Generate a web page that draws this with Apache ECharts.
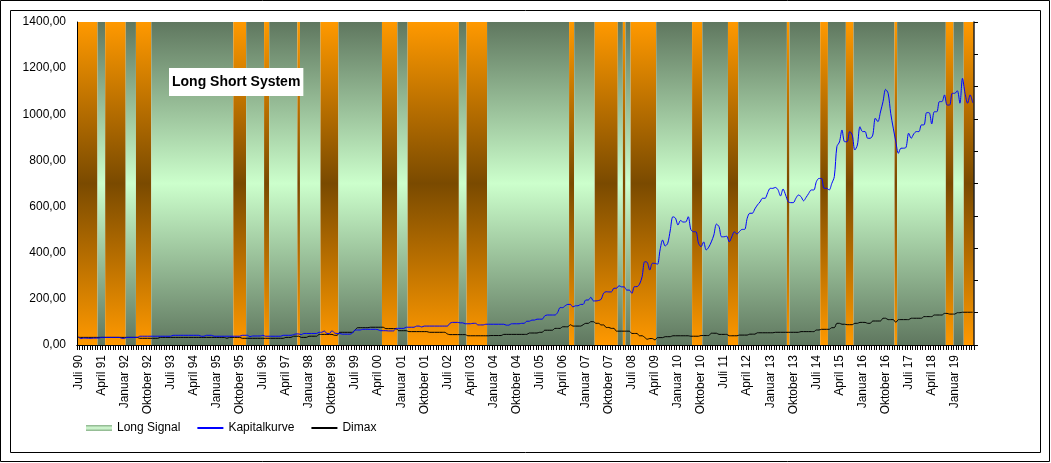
<!DOCTYPE html>
<html>
<head>
<meta charset="utf-8">
<script src="https://cdn.jsdelivr.net/npm/echarts@6/dist/echarts.min.js"></script>
<style>
html,body{margin:0;padding:0;background:#fff;}
#chart{width:1051px;height:463px;}
</style>
</head>
<body>
<div id="chart"></div>
<script>
// ---- data ----
const monthNames = ['Januar','Februar','März','April','Mai','Juni','Juli','August','September','Oktober','November','Dezember'];
const startYear = 1990;
const startMonth = 6; // Juli
const yTicks = [0, 200, 400, 600, 800, 1000, 1200, 1400];

// 1 = Long Signal (green), 0 = no long signal (orange), monthly from Juli 90
const longSignal = [
  0,0,0,0,0,0,0,0,1,1,
  1,0,0,0,0,0,0,0,0,1,
  1,1,1,0,0,0,0,0,0,1,
  1,1,1,1,1,1,1,1,1,1,
  1,1,1,1,1,1,1,1,1,1,
  1,1,1,1,1,1,1,1,1,1,
  1,0,0,0,0,0,1,1,1,1,
  1,1,1,0,0,1,1,1,1,1,
  1,1,1,1,1,1,0,1,1,1,
  1,1,1,1,1,0,0,0,0,0,
  0,0,1,1,1,1,1,1,1,1,
  1,1,1,1,1,1,1,1,1,0,
  0,0,0,0,0,1,1,1,1,0,
  0,0,0,0,0,0,0,0,0,0,
  0,0,0,0,0,0,0,0,0,1,
  1,1,0,0,0,0,0,0,0,0,
  1,1,1,1,1,1,1,1,1,1,
  1,1,1,1,1,1,1,1,1,1,
  1,1,1,1,1,1,1,1,1,1,
  1,1,0,0,1,1,1,1,1,1,
  1,1,0,0,0,0,0,0,0,0,
  0,1,1,0,1,1,0,0,0,0,
  0,0,0,0,0,0,1,1,1,1,
  1,1,1,1,1,1,1,1,1,1,
  0,0,0,0,1,1,1,1,1,1,
  1,1,1,1,0,0,0,0,1,1,
  1,1,1,1,1,1,1,1,1,1,
  1,1,1,1,1,1,1,0,1,1,
  1,1,1,1,1,1,1,1,1,1,
  0,0,0,1,1,1,1,1,1,1,
  0,0,0,1,1,1,1,1,1,1,
  1,1,1,1,1,1,1,1,1,0,
  1,1,1,1,1,1,1,1,1,1,
  1,1,1,1,1,1,1,1,1,0,
  0,0,1,1,1,1,0,0,0,0
];

const kapitalkurve = [
  36,28,30,30,29,29,30,30,30,33,
  33,33,33,33,33,33,33,29,29,33,
  33,33,33,33,38,38,38,38,38,38,
  38,38,38,38,38,38,38,42,42,42,
  42,42,42,42,42,42,42,42,38,38,
  42,42,42,38,38,38,38,38,38,38,
  38,38,38,38,42,42,42,36,39,39,
  39,39,42,38,38,38,38,38,38,38,
  42,42,42,42,45,48,48,45,50,50,
  50,50,50,50,55,55,61,50,50,62,
  52,50,50,47,47,47,47,52,65,65,
  65,68,68,68,68,68,68,66,62,62,
  62,61,61,61,72,72,72,72,77,77,
  77,77,82,82,78,82,82,82,82,82,
  82,82,82,82,82,94,98,98,98,96,
  96,92,92,92,94,94,87,87,87,90,
  90,90,90,90,90,90,90,86,86,92,
  92,92,92,94,94,103,103,108,108,112,
  112,112,126,130,130,130,130,140,162,162,
  170,176,176,165,170,170,176,176,195,195,
  207,191,191,193,198,225,231,230,230,246,
  246,257,252,252,238,238,224,253,253,264,
  296,361,358,325,354,354,350,412,455,429,
  441,498,556,550,520,540,533,533,556,501,
  491,491,441,426,447,412,424,447,477,524,
  513,469,469,472,447,469,491,481,492,501,
  501,549,571,571,590,607,620,636,636,660,
  679,679,683,673,646,676,650,621,617,617,
  636,650,643,625,640,657,672,672,708,722,
  722,679,679,672,700,730,860,880,932,881,
  881,925,910,845,867,946,925,925,896,896,
  910,983,968,1010,1055,1108,1091,1004,940,881,
  831,853,853,857,918,896,915,925,925,954,
  954,1007,1007,958,1011,1011,1055,1055,1084,1040,
  1040,1091,1091,1102,1048,1156,1091,1048,1084,1050
];

const dimax = [
  33,33,33,33,33,33,33,33,33,33,
  33,33,33,33,33,33,33,33,33,33,
  33,33,33,33,29,29,29,29,29,29,
  29,29,33,33,33,33,33,33,33,33,
  33,33,33,33,33,33,33,33,33,33,
  33,33,33,33,33,33,33,33,29,33,
  33,33,33,33,29,29,29,29,29,29,
  29,29,29,29,29,29,29,29,29,29,
  29,33,33,33,38,38,38,33,33,33,
  38,38,38,38,46,46,46,46,46,46,
  42,42,55,55,55,55,55,55,65,75,
  75,75,75,75,77,77,77,77,77,77,
  71,71,71,71,71,62,62,62,62,58,
  58,58,58,58,58,58,58,55,55,55,
  55,55,55,55,48,45,45,45,45,45,
  45,45,40,40,40,40,40,40,40,40,
  40,41,41,41,41,41,46,46,46,46,
  46,46,46,46,46,46,52,52,52,52,
  55,55,64,64,64,64,72,72,72,79,
  79,79,88,82,82,82,82,88,94,94,
  101,101,94,94,87,87,76,76,72,72,
  60,60,60,60,60,60,50,50,50,40,
  40,33,25,28,28,22,32,32,32,36,
  36,36,40,40,40,40,40,40,40,38,
  38,38,38,41,41,41,41,51,51,51,
  46,46,46,46,40,40,40,40,43,43,
  43,43,47,47,47,53,53,53,53,53,
  53,53,55,55,55,55,55,55,55,55,
  55,55,58,58,58,58,58,58,65,65,
  68,68,68,68,75,75,94,94,90,90,
  88,88,88,94,94,98,98,98,94,94,
  104,104,104,104,116,116,110,110,110,98,
  110,110,110,110,110,116,116,116,116,116,
  123,123,123,123,130,130,130,130,137,137,
  134,134,134,140,140,142,142,142,142,142
];

// ---- derived ----
const categories = [];
for (let i = 0; i < longSignal.length; i++) {
  const m = (startMonth + i) % 12;
  const y = startYear + Math.floor((startMonth + i) / 12);
  categories.push(monthNames[m] + ' ' + String(y % 100).padStart(2, '0'));
}
const segments = [];
let s = 0;
for (let i = 1; i <= longSignal.length; i++) {
  if (i === longSignal.length || longSignal[i] !== longSignal[s]) {
    segments.push([s, i - 1, longSignal[s]]);
    s = i;
  }
}

const FONT = '"Liberation Sans", Arial, sans-serif';
const greenGrad = new echarts.graphic.LinearGradient(0, 0, 0, 1, [
  {offset: 0, color: '#5f775f'}, {offset: 0.5, color: '#ccffcc'}, {offset: 1, color: '#5f775f'}
]);
const orangeGrad = new echarts.graphic.LinearGradient(0, 0, 0, 1, [
  {offset: 0, color: '#ff9900'}, {offset: 0.5, color: '#7a4a00'}, {offset: 1, color: '#ff9900'}
]);
const legendGrad = new echarts.graphic.LinearGradient(0, 0, 0, 1, [
  {offset: 0, color: '#88b088'}, {offset: 0.5, color: '#d8ffd8'}, {offset: 1, color: '#88b088'}
]);

const chart = echarts.init(document.getElementById('chart'), null, {renderer: 'canvas'});
chart.setOption({
  animation: false,
  backgroundColor: '#ffffff',
  textStyle: {fontFamily: FONT},
  title: {
    text: 'Long Short System',
    left: 169, top: 68,
    backgroundColor: '#ffffff',
    padding: [7, 3, 7, 3],
    textStyle: {fontFamily: FONT, fontSize: 14, fontWeight: 'bold', color: '#000'}
  },
  legend: {
    left: 86, top: 422,
    itemGap: 16, itemWidth: 26, itemHeight: 6,
    padding: 0,
    textStyle: {fontFamily: FONT, fontSize: 12, color: '#000'},
    data: [
      {name: 'Long Signal', icon: 'rect'},
      {name: 'Kapitalkurve', itemStyle: {opacity: 0}},
      {name: 'Dimax', itemStyle: {opacity: 0}}
    ]
  },
  grid: {left: 77, top: 22, right: 77, bottom: 118, containLabel: false},
  xAxis: [{
    type: 'category',
    data: categories,
    boundaryGap: true,
    z: 10,
    axisLine: {show: true, lineStyle: {color: '#000', width: 1}},
    axisTick: {show: true, interval: 0, length: 5, lineStyle: {color: '#000'}},
    axisLabel: {interval: 8, rotate: 90, margin: 10, fontFamily: FONT, fontSize: 12, color: '#000'},
    splitLine: {show: false}
  }, {
    type: 'category',
    data: categories,
    position: 'top',
    z: 10,
    axisLine: {show: true, lineStyle: {color: '#000', width: 1}},
    axisTick: {show: false},
    axisLabel: {show: false},
    splitLine: {show: false}
  }],
  yAxis: [{
    type: 'value',
    min: yTicks[0], max: yTicks[yTicks.length - 1], interval: 200,
    z: 10,
    axisLine: {show: true, lineStyle: {color: '#000', width: 1}},
    axisTick: {show: false},
    axisLabel: {margin: 11, fontFamily: FONT, fontSize: 12, color: '#000',
      formatter: v => v.toFixed(2).replace('.', ',')},
    splitLine: {show: false}
  }, {
    type: 'value',
    min: 0, max: 1, interval: 0.1,
    position: 'right',
    z: 10,
    axisLine: {show: true, lineStyle: {color: '#222', width: 1.5}},
    axisTick: {show: true, length: 4, lineStyle: {color: '#000'}},
    axisLabel: {show: false},
    splitLine: {show: false}
  }],
  series: [{
    name: 'Long Signal',
    type: 'custom',
    xAxisIndex: 0,
    yAxisIndex: 1,
    itemStyle: {color: legendGrad},
    encode: {x: [0, 1], y: 2},
    data: segments,
    z: 1,
    clip: true,
    renderItem: function (params, api) {
      const a = api.value(0), b = api.value(1), f = api.value(2);
      const top = api.coord([a, 1]);
      const bot = api.coord([b, 0]);
      const bw = api.size([1, 0])[0];
      const x0 = top[0] - bw / 2;
      const x1 = bot[0] + bw / 2;
      return {
        type: 'rect',
        shape: {x: x0, y: top[1], width: x1 - x0, height: bot[1] - top[1]},
        style: {fill: f ? greenGrad : orangeGrad}
      };
    }
  }, {
    name: 'Kapitalkurve',
    type: 'line',
    data: kapitalkurve,
    symbol: 'none',
    smooth: 0.3,
    z: 5,
    lineStyle: {color: '#0000ff', width: 1},
    itemStyle: {color: '#0000ff'}
  }, {
    name: 'Dimax',
    type: 'line',
    data: dimax,
    symbol: 'none',
    smooth: 0.3,
    z: 4,
    lineStyle: {color: '#000000', width: 1},
    itemStyle: {color: '#000000'}
  }],
  graphic: [{
    type: 'rect', silent: true, z: 100,
    shape: {x: 0.5, y: 0.5, width: 1049, height: 461},
    style: {fill: 'none', stroke: '#000', lineWidth: 1}
  }, {
    type: 'rect', silent: true, z: 100,
    shape: {x: 10.5, y: 10.5, width: 1030, height: 442},
    style: {fill: 'none', stroke: '#000', lineWidth: 1}
  }]
});
</script>
</body>
</html>
